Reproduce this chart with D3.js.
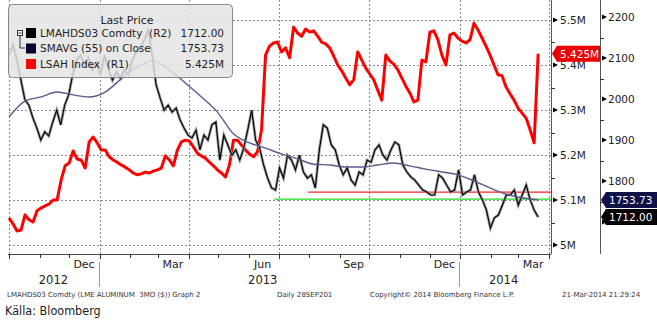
<!DOCTYPE html>
<html><head><meta charset="utf-8">
<script src="https://cdn.jsdelivr.net/npm/d3@7"></script>
<style>
body{margin:0;background:#fff;}
svg{display:block;}
text{font-family:"DejaVu Sans",Verdana,sans-serif;}
</style>
</head><body>
<svg id="chart" width="657" height="324"></svg>
<script>
// ---------------- DATA ----------------
const seriesStart = "2012-10-01";
const seriesEnd = "2014-03-21";
// LMAHDS03 Comdty (LME aluminium 3M, USD/t) - R2
const lmePrice = [
2107,2132,2095,2046,1998,1985,1954,1929,1900,1920,1910,1944,1973,1937,1985,2010,
2059,2095,2107,2083,2100,2071,2090,2059,2107,2071,2046,2066,2051,2071,2059,2095,
2115,2124,2144,2168,2107,2034,2002,1973,1985,1968,1978,1949,1929,1912,1905,1924,
1876,1912,1900,1937,1944,1851,1912,1888,1863,1876,1851,1880,1924,1973,1900,1880,
1839,1807,1783,1778,1832,1807,1863,1851,1827,1863,1822,1807,1815,1783,1876,1937,
1929,1888,1876,1839,1815,1832,1802,1790,1822,1815,1851,1846,1876,1888,1863,1851,
1876,1895,1888,1839,1822,1810,1802,1790,1778,1773,1766,1766,1815,1807,1790,1773,
1778,1827,1766,1773,1778,1815,1773,1754,1729,1685,1710,1717,1741,1766,1766,1778,
1741,1766,1790,1754,1729,1712];
// SMAVG (55) on Close - R2
const smaPrice = [
1956,1995,2005,2017,2010,2005,2017,2049,2078,2093,2071,2039,2005,1968,1915,1893,
1880,1866,1854,1841,1839,1834,1834,1839,1844,1837,1829,1822,1815,1800,1783,1768,
1759,1753.73];
// LSAH Index (LME aluminium stocks, millions of tonnes) - R1
const lsahStocks = [
5.060,5.047,5.031,5.033,5.067,5.056,5.051,5.076,5.082,5.087,5.091,5.100,5.100,5.144,5.176,5.182,
5.209,5.191,5.189,5.171,5.229,5.240,5.227,5.211,5.211,5.196,5.189,5.184,5.178,5.173,5.167,5.160,
5.156,5.158,5.162,5.160,5.164,5.167,5.171,5.198,5.189,5.176,5.211,5.229,5.233,5.231,5.218,5.204,
5.198,5.193,5.184,5.176,5.167,5.160,5.151,5.178,5.233,5.233,5.222,5.211,5.202,5.196,5.207,5.256,
5.422,5.442,5.449,5.451,5.429,5.438,5.416,5.484,5.471,5.464,5.480,5.473,5.476,5.464,5.451,5.447,
5.438,5.420,5.400,5.387,5.371,5.356,5.367,5.429,5.411,5.393,5.380,5.367,5.344,5.322,5.422,5.409,
5.402,5.389,5.371,5.353,5.338,5.318,5.322,5.411,5.407,5.473,5.476,5.456,5.422,5.400,5.467,5.471,
5.460,5.453,5.449,5.456,5.493,5.478,5.460,5.442,5.422,5.400,5.378,5.376,5.351,5.336,5.322,5.304,
5.293,5.282,5.256,5.227,5.425];
const r1Ticks = [5.0,5.1,5.2,5.3,5.4,5.5];
const r1TickLabels = ["5M","5.1M","5.2M","5.3M","5.4M","5.5M"];
const r2Ticks = [1700,1800,1900,2000,2100,2200];
const r2TickLabels = ["","1800","1900","2000","2100","2200"]; // 1700 hidden under the value flags
const monthLabels = ["Dec","Mar","Jun","Sep","Dec","Mar"];
const monthLabelDates = ["2012-12-16","2013-03-16","2013-06-15","2013-09-15","2013-12-16","2014-03-16"];
const yearLabels = ["2012","2013","2014"];
const yearLabelDates = ["2012-11-15","2013-06-15","2014-02-14"];
const yearBreaks = ["2013-01-01","2014-01-01"];
const refLevels = [1773, 1756];
const refStarts = ["2013-07-31","2013-06-27"];
const refColors = ["#ff2020","#22dd22"];
const legendNames = ["LMAHDS03 Comdty  (R2)","SMAVG (55) on Close","LSAH Index  (R1)"];
const legendValues = ["1712.00","1753.73","5.425M"];
const legendColors = ["#000000","#000033","#ff0000"];
const footer = ["LMAHDS03 Comdty (LME ALUMINUM  3MO ($)) Graph 2","Daily 28SEP201","Copyright\u00a9 2014 Bloomberg Finance L.P.","21-Mar-2014 21:29:24"];

// ---------------- CHART ----------------
const parse = d3.timeParse("%Y-%m-%d");
const svg = d3.select("#chart");
const P = {l:9, r:551, t:0, b:254};
const x = d3.scaleTime().domain([parse("2012-10-01"), parse("2014-04-01")]).range([9, 549]);
const yR1 = d3.scaleLinear().domain([5.0, 5.5]).range([245, 20]);
const yR2 = d3.scaleLinear().domain([1800, 2200]).range([181, 17]);

function evenDates(n){
  const t0 = +parse(seriesStart), t1 = +parse(seriesEnd);
  return d3.range(n).map(i => new Date(t0 + i*(t1-t0)/(n-1)));
}
const dLme = evenDates(lmePrice.length);
const dSma = evenDates(smaPrice.length);
const dLsah = evenDates(lsahStocks.length);

svg.append("defs").append("clipPath").attr("id","plotclip")
  .append("rect").attr("x",P.l-1).attr("y",P.t).attr("width",P.r-P.l+1).attr("height",P.b-P.t);

// grid
const grid = svg.append("g").attr("stroke","#8c8c8c").attr("stroke-width",1).attr("stroke-dasharray","2,2");
r1Ticks.forEach(v=>{
  grid.append("line").attr("x1",P.l).attr("x2",P.r).attr("y1",Math.round(yR1(v))+0.5).attr("y2",Math.round(yR1(v))+0.5);
});
const quarterStarts = d3.timeMonth.every(3).range(parse("2012-10-01"), parse("2014-04-02"));
quarterStarts.forEach(d=>{
  const xx = Math.round(x(d))+0.5;
  grid.append("line").attr("x1",xx).attr("x2",xx).attr("y1",P.t).attr("y2",P.b);
});

const plot = svg.append("g").attr("clip-path","url(#plotclip)");

// reference lines
refLevels.forEach((v,i)=>{
  plot.append("line").attr("x1",x(parse(refStarts[i]))).attr("x2",P.r)
    .attr("y1",yR2(v)).attr("y2",yR2(v)).attr("stroke",refColors[i]).attr("stroke-width",1.2);
});

// red stocks line
plot.append("path").datum(lsahStocks)
  .attr("fill","none").attr("stroke","#ff0000").attr("stroke-width",3).attr("stroke-linejoin","round")
  .attr("d", d3.line().x((d,i)=>x(dLsah[i])).y(d=>yR1(d)));

// price (bar-like look)
const priceLine = d3.line().x((d,i)=>x(dLme[i])).y(d=>yR2(d));
plot.append("path").datum(lmePrice).attr("fill","none").attr("stroke","#9a9a9a").attr("stroke-width",2.8).attr("d",priceLine);
plot.append("path").datum(lmePrice).attr("fill","none").attr("stroke","#000").attr("stroke-width",1.1).attr("d",priceLine);

// SMA
plot.append("path").datum(smaPrice)
  .attr("fill","none").attr("stroke","#5a5a8e").attr("stroke-width",1.4)
  .attr("d", d3.line().curve(d3.curveMonotoneX).x((d,i)=>x(dSma[i])).y(d=>yR2(d)));

// axes lines
svg.append("line").attr("x1",P.l-1).attr("x2",P.r).attr("y1",P.b+0.5).attr("y2",P.b+0.5).attr("stroke","#444");
svg.append("line").attr("x1",P.r+0.5).attr("x2",P.r+0.5).attr("y1",0).attr("y2",P.b).attr("stroke","#555");
svg.append("line").attr("x1",600.5).attr("x2",600.5).attr("y1",0).attr("y2",P.b).attr("stroke","#555");

// R1 ticks
const ax1 = svg.append("g");
d3.range(5.05,5.5,0.1).forEach(v=>{
  ax1.append("line").attr("x1",P.r).attr("x2",P.r+4).attr("y1",Math.round(yR1(v))+0.5).attr("y2",Math.round(yR1(v))+0.5).attr("stroke","#333");
});
r1Ticks.forEach((v,i)=>{
  const yy = yR1(v);
  ax1.append("path").attr("d",`M${P.r+2},${yy-2.5}L${P.r+7},${yy}L${P.r+2},${yy+2.5}Z`).attr("fill","#000");
  ax1.append("text").attr("x",P.r+9).attr("y",yy).attr("dy","0.36em").attr("font-size",10.5).attr("fill","#222").text(r1TickLabels[i]);
});
// R2 ticks
const ax2 = svg.append("g");
[1750,1850,1950,2050,2150].forEach(v=>{
  ax2.append("line").attr("x1",600).attr("x2",604).attr("y1",Math.round(yR2(v))+0.5).attr("y2",Math.round(yR2(v))+0.5).attr("stroke","#333");
});
r2Ticks.forEach((v,i)=>{
  const yy = yR2(v);
  ax2.append("path").attr("d",`M602,${yy-2.5}L607,${yy}L602,${yy+2.5}Z`).attr("fill","#000");
  if (r2TickLabels[i]) ax2.append("text").attr("x",608).attr("y",yy).attr("dy","0.36em").attr("font-size",10.5).attr("fill","#222").text(r2TickLabels[i]);
});

// bottom ticks
const months = d3.timeMonth.range(parse("2012-10-01"), parse("2014-04-02"));
months.forEach(d=>{
  const xx = Math.round(x(d))+0.5;
  const major = d.getMonth()%3===0;
  svg.append("line").attr("x1",xx).attr("x2",xx).attr("y1",P.b).attr("y2",P.b+(major?5:4)).attr("stroke","#333");
});
monthLabels.forEach((m,i)=>{
  svg.append("text").attr("x",x(parse(monthLabelDates[i]))).attr("y",268).attr("text-anchor","middle")
    .attr("font-size",11).attr("fill","#222").text(m);
});
yearLabels.forEach((m,i)=>{
  svg.append("text").attr("x",x(parse(yearLabelDates[i]))).attr("y",284).attr("text-anchor","middle")
    .attr("font-size",11.5).attr("fill","#222").text(m);
});
yearBreaks.forEach(d=>{
  const xx = Math.round(x(parse(d)))-0.5;
  svg.append("line").attr("x1",xx).attr("x2",xx).attr("y1",262).attr("y2",287).attr("stroke","#999");
});

// value flags
function flag(yy, tipX, w, fill, label){
  const g = svg.append("g");
  g.append("path").attr("d",`M${tipX},${yy}L${tipX+5},${yy-8}L${tipX+w},${yy-8}L${tipX+w},${yy+8}L${tipX+5},${yy+8}Z`).attr("fill",fill);
  g.append("text").attr("x",tipX+8).attr("y",yy).attr("dy","0.36em").attr("font-size",10.5).attr("fill","#fff").text(label);
}
flag(yR1(lsahStocks[lsahStocks.length-1]), 552, 48, "#ee0000", legendValues[2]);
const ySma = yR2(smaPrice[smaPrice.length-1]);
let yLme = yR2(lmePrice[lmePrice.length-1]);
yLme = Math.max(yLme, ySma+17);
flag(ySma, 601, 56, "#101048", legendValues[1]);
flag(yLme, 601, 56, "#000000", legendValues[0]);

// legend
const lg = svg.append("g");
lg.append("rect").attr("x",8.5).attr("y",4.5).attr("width",224).attr("height",73).attr("rx",4)
  .attr("fill","#e4e4e4").attr("fill-opacity",0.85).attr("stroke","#8a8a8a");
lg.append("text").attr("x",127).attr("y",24).attr("text-anchor","middle").attr("font-size",11).attr("fill","#222").text("Last Price");
lg.append("rect").attr("x",17.5).attr("y",30.5).attr("width",5).attr("height",5).attr("fill","#fff").attr("stroke","#333");
lg.append("line").attr("x1",18.5).attr("x2",21.5).attr("y1",33).attr("y2",33).attr("stroke","#333");
lg.append("path").attr("d","M20,36V48H25").attr("fill","none").attr("stroke","#333");
legendNames.forEach((n,i)=>{
  const yy = 33 + i*15.5;
  lg.append("rect").attr("x",26).attr("y",yy-5).attr("width",10).attr("height",10).attr("fill",legendColors[i]);
  lg.append("text").attr("x",40).attr("y",yy).attr("dy","0.36em").attr("font-size",10.5).attr("fill","#222").attr("xml:space","preserve").text(n);
  lg.append("text").attr("x",224).attr("y",yy).attr("dy","0.36em").attr("text-anchor","end").attr("font-size",10.5).attr("fill","#222").text(legendValues[i]);
});

// footer
const fx = [7, 277, 370, 562];
footer.forEach((t,i)=>{
  svg.append("text").attr("x",fx[i]).attr("y",297).attr("font-size",7).attr("fill","#333").attr("xml:space","preserve").text(t);
});
svg.append("text").attr("x",5).attr("y",315)
  .style("font-family","'Liberation Sans Narrow','DejaVu Sans Condensed','Roboto Condensed',sans-serif")
  .attr("font-size",12.5).attr("fill","#222").text("Källa: Bloomberg");
</script>
</body></html>
